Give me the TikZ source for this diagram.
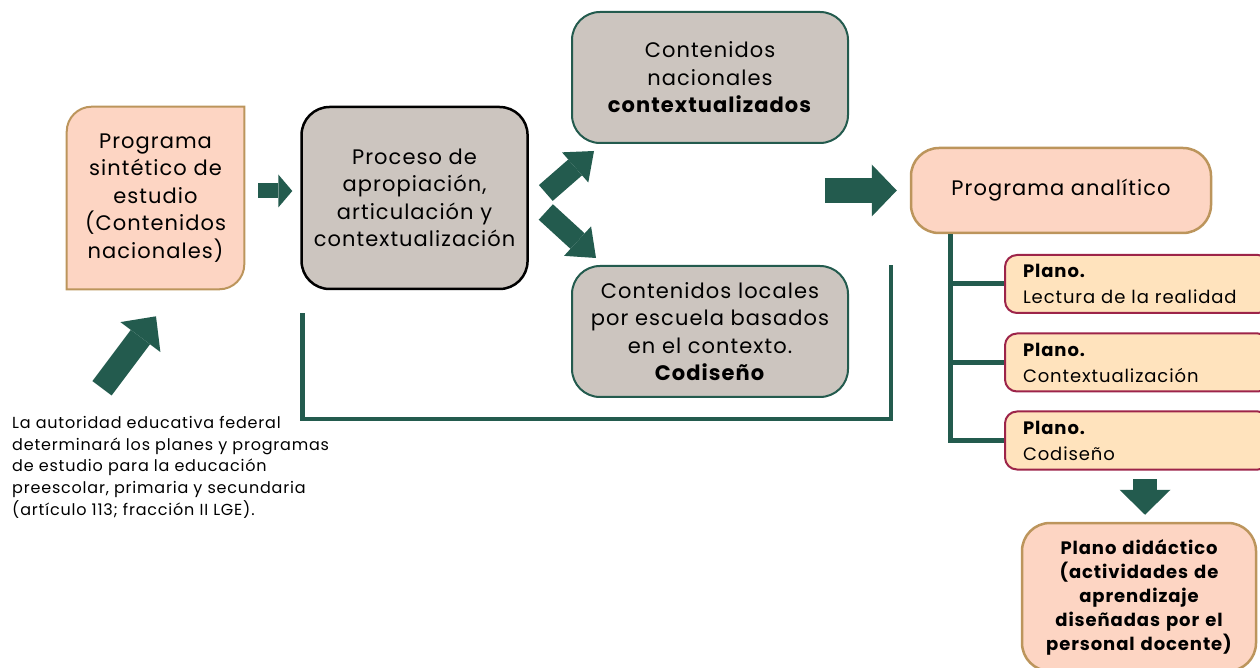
\documentclass[tikz,border=0pt]{standalone}
\usepackage{fontspec}
\setmainfont{Poppins}[LetterSpace=5]
\usepackage{xcolor}
\usetikzlibrary{arrows.meta,positioning}
\definecolor{verde}{HTML}{235B4E}
\definecolor{salmon}{HTML}{FDD5C3}
\definecolor{dorado}{HTML}{BC955C}
\definecolor{gris}{HTML}{CCC5BF}
\definecolor{crema}{HTML}{FFE3BD}
\definecolor{guinda}{HTML}{9D2449}
\pgfdeclarelayer{fondo}
\pgfsetlayers{fondo,main}

\begin{document}
\begin{tikzpicture}[x=1pt, y=1pt, semithick,
    flecha/.style n args={3}{draw=verde, line width=#1, -{Triangle[width=#2, length=#3, line width=0pt]}},
    linea/.style={draw=verde, line width=4.5pt}]
    \tikzstyle{caja}=[rectangle, rounded corners=28pt, align=center, inner sep=0pt, font=\fontsize{21}{27.5}\selectfont]
    \tikzstyle{rosa}=[caja, fill=salmon, draw=dorado, line width=2.5pt]
    \tikzstyle{gris}=[caja, fill=gris, draw=verde, line width=2pt, minimum width=276pt, minimum height=131pt]
    \tikzstyle{plano}=[rectangle, rounded corners=12pt, fill=crema, draw=guinda, line width=2pt, minimum width=265pt, minimum height=58pt,
                       text width=229pt, inner xsep=18pt, align=left, font=\fontsize{18}{26}\selectfont]

    \useasboundingbox (0,0) rectangle (1260,667);

    % Programa sintetico
    \node[caja, minimum width=177pt, minimum height=182pt] (sintetico) at (155.5,469)
        {Programa\\sintético de\\estudio\\(Contenidos\\nacionales)};
    \begin{pgfonlayer}{fondo}
    \filldraw[fill=salmon, draw=dorado, line width=2pt]
        (sintetico.south west) -- ([yshift=-25pt]sintetico.north west) arc[start angle=180, end angle=90, radius=25pt]
        -- (sintetico.north east) -- ([yshift=25pt]sintetico.south east) arc[start angle=0, end angle=-90, radius=25pt] -- cycle;
    \end{pgfonlayer}

    % Proceso
    \node[caja, fill=gris, draw=black, line width=2.5pt, minimum width=226pt, minimum height=182pt] (proceso) [right=56pt of sintetico]
        {Proceso de\\apropiación,\\articulación y\\contextualización};

    % Contenidos
    \node[gris] (nacionales) at (710,589.5) {Contenidos\\nacionales\\\textbf{contextualizados}};
    \node[gris] (locales)    [below=121pt of nacionales] {Contenidos locales\\por escuela basados\\en el contexto.\\\textbf{Codiseño}};

    % Programa analitico y planos
    \node[rosa, minimum width=300pt, minimum height=85pt] (analitico) at (1061,476.5) {Programa analítico};
    \node[plano] (lectura)  at (1137.5,383)            {\textbf{Plano.}\\Lectura de la realidad};
    \node[plano] (contexto) [below=18.5pt of lectura]  {\textbf{Plano.}\\Contextualización};
    \node[plano] (codiseno) [below=18pt of contexto]   {\textbf{Plano.}\\Codiseño};
    \node[rosa, minimum width=234pt, minimum height=148pt, text width=226pt, font=\fontsize{18}{24}\selectfont\bfseries]
        (didactico) at (1139,70)
        {Plano didáctico\\(actividades de\\aprendizaje\\diseñadas por el\\personal docente)};

    % Nota
    \node[anchor=north west, align=left, inner sep=0pt, font=\fontsize{16}{21.7}\selectfont] (nota) at (12,251)
        {La autoridad educativa federal\\determinará los planes y programas\\de estudio para la educación\\preescolar, primaria y secundaria\\(artículo 113; fracción II LGE).};

    % Flechas
    \draw[flecha={15pt}{33pt}{14pt}] ([shift={(14,7)}]sintetico.east) -- ([shift={(-8,7)}]proceso.west);
    \draw[flecha={21pt}{40pt}{25pt}] ([shift={(17,5)}]proceso.east) -- ([shift={(23,-7)}]nacionales.south west);
    \draw[flecha={21pt}{40pt}{25pt}] ([shift={(17,-14)}]proceso.east) -- ([shift={(25,7)}]locales.north west);
    \draw[flecha={25pt}{52pt}{25pt}] ([xshift=-85pt]analitico.west) -- ([xshift=-13pt]analitico.west);
    \draw[flecha={24pt}{51pt}{25pt}] ([shift={(7.5,-8.5)}]codiseno.south) -- ([shift={(6,7)}]didactico.north);
    \draw[flecha={24pt}{50pt}{26pt}] ([shift={(-53.5,-99)}]sintetico.south) -- ([shift={(0.5,-27)}]sintetico.south);

    % Vuelta
    \draw[linea] ([shift={(2,-23)}]proceso.south west) -- ++(0,-106) -| ([xshift=42pt]locales.north east);

    % Arbol de planos
    \coordinate (tronco) at ([xshift=41pt]analitico.south west);
    \draw[linea, line width=5pt] (tronco) |- (codiseno.west);
    \draw[linea, line width=5pt] (tronco |- lectura.west) -- (lectura.west);
    \draw[linea, line width=5pt] (tronco |- contexto.west) -- (contexto.west);
\end{tikzpicture}
\end{document}
